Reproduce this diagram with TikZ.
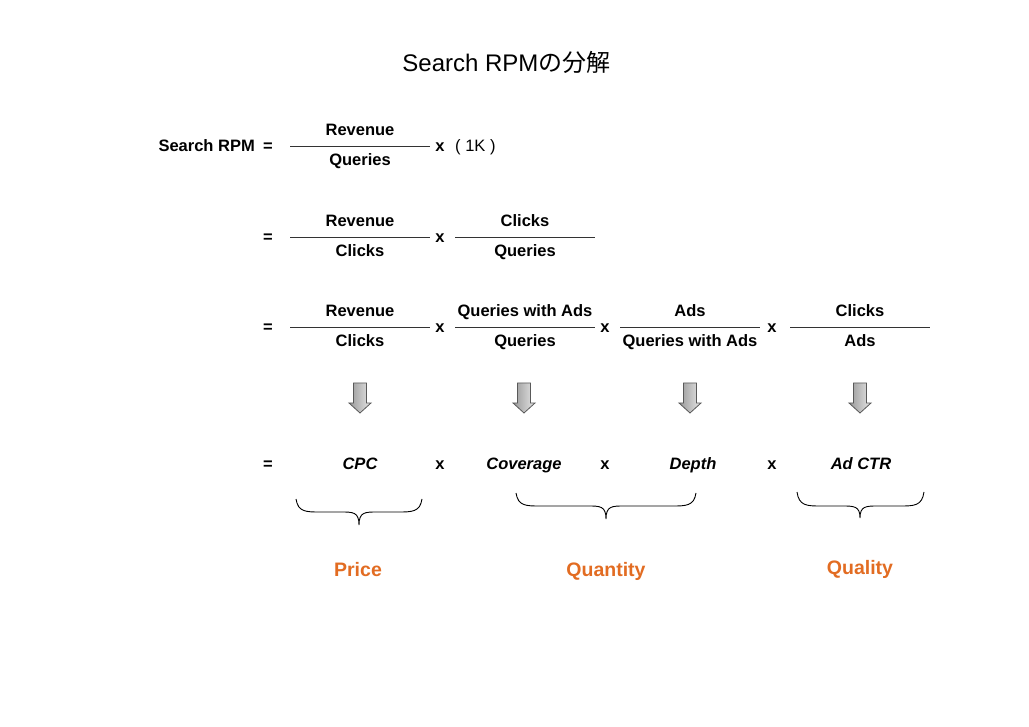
\documentclass[tikz,border=0pt]{standalone}
\usepackage{fontspec}
\setmainfont{Liberation Sans}
\newfontfamily\cjkfont{Noto Sans CJK JP}
\definecolor{orangelab}{RGB}{226,108,34}
\begin{document}
\begin{tikzpicture}[x=1pt,y=-1pt,
  txt/.style={font=\fontsize{16.5}{18}\selectfont\bfseries, inner sep=0pt, anchor=base},
  itxt/.style={font=\fontsize{16.5}{18}\selectfont\bfseries\itshape, inner sep=0pt, anchor=base},
  rtxt/.style={font=\fontsize{16.5}{18}\selectfont, inner sep=0pt, anchor=base west},
  lab/.style={font=\fontsize{19.5}{22}\selectfont\bfseries, text=orangelab, inner sep=0pt, anchor=base},
  fracline/.style={draw=black!80, line width=0.9pt},
  bracestyle/.style={draw=black, line width=0.9pt},
  arrowstyle/.style={draw=black!65, line width=0.8pt, left color=black!40, right color=black!10},
  blockarrow/.pic={\path[arrowstyle] (-6.5,0) -- (6.5,0) -- (6.5,20) -- (11,20) -- (0,30) -- (-11,20) -- (-6.5,20) -- cycle;}
]
\useasboundingbox (0,0) rectangle (1029,727);
\newcommand\myfrac[5]{%
  \node[txt] (#5n) at (#1,#2-10) {#3};
  \node[txt] (#5d) at (#1,#2+20) {#4};
  \coordinate (#5l) at (#1-70,#2);
  \coordinate (#5r) at (#1+70,#2);
  \draw[fracline] (#5l) -- (#5r);}
\newcommand\mybrace[6]{%
  \draw[bracestyle] (#1,#4) .. controls (#1+2,#5) and (#1+10,#5) .. (#1+24,#5) -- (#3-18,#5)
    .. controls (#3-6,#5) and (#3,#5) .. (#3,#6) .. controls (#3,#5) and (#3+6,#5) .. (#3+18,#5)
    -- (#2-24,#5) .. controls (#2-10,#5) and (#2-2,#5) .. (#2,#4);}
% title
\node[inner sep=0pt, anchor=base, font=\fontsize{24}{28}\selectfont] (title) at (506.5,72) {Search RPM{\cjkfont の分解}};
% row 1
\node[txt, anchor=base east] (srpm) at (255,151.5) {Search RPM};
\node[txt] (eq1) at (268,151.5) {=};
\myfrac{360}{146}{Revenue}{Queries}{fa}
\node[txt] (x1) at (440,151.5) {x};
\node[rtxt] (k1) at (455,151.5) {( 1K )};
% row 2
\node[txt] (eq2) at (268,242.5) {=};
\myfrac{360}{237}{Revenue}{Clicks}{fb}
\node[txt] (x2) at (440,242.5) {x};
\myfrac{525}{237}{Clicks}{Queries}{fc}
% row 3
\node[txt] (eq3) at (268,332.5) {=};
\myfrac{360}{327}{Revenue}{Clicks}{fd}
\node[txt] (x3a) at (440,332.5) {x};
\myfrac{525}{327}{Queries with Ads}{Queries}{fe}
\node[txt] (x3b) at (605,332.5) {x};
\myfrac{690}{327}{Ads}{Queries with Ads}{ff}
\node[txt] (x3c) at (772,332.5) {x};
\myfrac{860}{327}{Clicks}{Ads}{fg}
% arrows
\pic at (360,383) {blockarrow};
\pic at (524,383) {blockarrow};
\pic at (690,383) {blockarrow};
\pic at (860,383) {blockarrow};
% row 4
\node[txt] (eq4) at (268,469) {=};
\node[itxt] (cpc) at (360,469) {CPC};
\node[txt] (x4a) at (440,469) {x};
\node[itxt] (cov) at (524,469) {Coverage};
\node[txt] (x4b) at (605,469) {x};
\node[itxt] (dep) at (693,469) {Depth};
\node[txt] (x4c) at (772,469) {x};
\node[itxt] (ctr) at (861,469) {Ad CTR};
% braces
\mybrace{296}{422}{359}{499}{512}{525}
\mybrace{516}{696}{606}{493}{506}{519}
\mybrace{797}{924}{860}{492}{506}{518}
% labels
\node[lab] (price) at (358,576) {Price};
\node[lab] (quant) at (606,576) {Quantity};
\node[lab] (qual) at (860,574) {Quality};
\end{tikzpicture}
\end{document}
